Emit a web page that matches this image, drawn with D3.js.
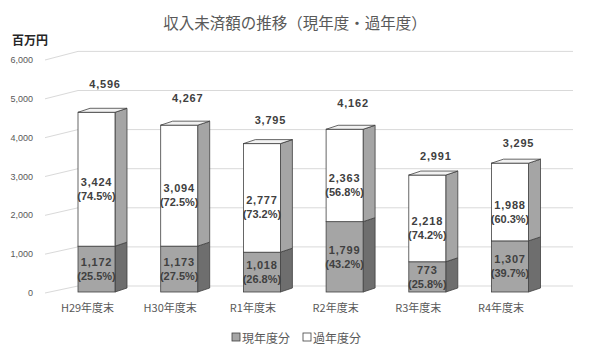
<!DOCTYPE html>
<html><head><meta charset="utf-8">
<script src="https://cdn.jsdelivr.net/npm/d3@7"></script>
<style>body{margin:0;background:#fff;}svg{display:block;}</style>
</head><body><svg id="c" width="600" height="357"></svg>
<script>
const categories = ["H29年度末","H30年度末","R1年度末","R2年度末","R3年度末","R4年度末"];
const currentVals = [1172,1173,1018,1799,773,1307];
const pastVals = [3424,3094,2777,2363,2218,1988];
const totals = [4596,4267,3795,4162,2991,3295];
const currentPct = ["25.5%","27.5%","26.8%","43.2%","25.8%","39.7%"];
const pastPct = ["74.5%","72.5%","73.2%","56.8%","74.2%","60.3%"];
const yTicks = [0,1000,2000,3000,4000,5000,6000];
const seriesNames = ["現年度分","過年度分"];

const svg = d3.select("#c");
const x = d3.scalePoint().domain(categories).range([96.5,510]);
const yBar = d3.scaleLinear().domain([0,6000]).range([292,57.4]);
const yBack = d3.scaleLinear().domain([0,6000]).range([286,51.4]);
const yTick = d3.scaleLinear().domain([0,6000]).range([293,60]);
const bw = 37, dx = 12, dy = -4;
const fmt = d3.format(",");

// title
svg.append("text").attr("x",295).attr("y",22).attr("text-anchor","middle")
  .attr("dominant-baseline","central").attr("fill","#595959")
  .style("font-family","'Noto Sans CJK JP'").style("font-size","15.5px")
  .text("収入未済額の推移（現年度・過年度）");
svg.append("text").attr("x",12).attr("y",39).attr("dominant-baseline","central")
  .attr("fill","#262626").style("font-family","'Noto Sans CJK JP'").style("font-size","12px")
  .style("font-weight","bold").text("百万円");

// gridlines
const g = svg.append("g");
yTicks.forEach(v=>{
  g.append("line").attr("x1",45).attr("y1",yTick(v)).attr("x2",78).attr("y2",yBack(v))
   .attr("stroke","#d9d9d9").attr("stroke-width",1);
  g.append("line").attr("x1",78).attr("y1",yBack(v)).attr("x2",573).attr("y2",yBack(v))
   .attr("stroke","#d9d9d9").attr("stroke-width",1);
  g.append("text").attr("x",33).attr("y",yTick(v)).attr("text-anchor","end")
   .attr("dominant-baseline","central").attr("fill","#595959")
   .style("font-family","'Liberation Sans'").style("font-size","9px").text(fmt(v));
});

function box(gg, xl, y0, y1, front, side, top){
  const xr = xl+bw;
  gg.append("path").attr("d",`M${xr},${y0}L${xr+dx},${y0+dy}L${xr+dx},${y1+dy}L${xr},${y1}Z`)
    .attr("fill",side).attr("stroke","#404040").attr("stroke-width",0.8);
  gg.append("rect").attr("x",xl).attr("y",y1).attr("width",bw).attr("height",y0-y1)
    .attr("fill",front).attr("stroke","#404040").attr("stroke-width",0.8);
  if(top){
    gg.append("path").attr("d",`M${xl},${y1}L${xl+dx},${y1+dy}L${xr+dx},${y1+dy}L${xr},${y1}Z`)
      .attr("fill",top).attr("stroke","#404040").attr("stroke-width",0.8);
  }
}
const lbl = (sel)=>sel.attr("text-anchor","middle").attr("dominant-baseline","central")
  .attr("fill","#404040").style("font-family","'Liberation Sans'").style("font-size","11px")
  .style("font-weight","bold").style("letter-spacing","0.8px");

const bars = svg.append("g");
categories.forEach((c,i)=>{
  const cx = x(c), xl = cx - bw/2;
  const y0 = yBar(0), y1 = yBar(currentVals[i]), y2 = yBar(totals[i]);
  box(bars, xl, y0, y1, "#a5a5a5", "#6e6e6e", null);
  box(bars, xl, y1, y2, "#ffffff", "#a5a5a5", "#f2f2f2");
  const mc = (y0+y1)/2;
  lbl(bars.append("text").attr("x",cx).attr("y",mc-7)).text(fmt(currentVals[i]));
  lbl(bars.append("text").attr("x",cx).attr("y",mc+7)).style("letter-spacing","0px").text("("+currentPct[i]+")");
  const mp = (y1+y2)/2 + 9.5;
  lbl(bars.append("text").attr("x",cx).attr("y",mp-7)).text(fmt(pastVals[i]));
  lbl(bars.append("text").attr("x",cx).attr("y",mp+7)).style("letter-spacing","0px").text("("+pastPct[i]+")");
  lbl(bars.append("text").attr("x",cx+8.5).attr("y",yBar(totals[i]*1.16))).text(fmt(totals[i]));
  svg.append("text").attr("x",cx-9).attr("y",307).attr("text-anchor","middle")
    .attr("dominant-baseline","central").attr("fill","#595959")
    .style("font-family","'Noto Sans CJK JP'").style("font-size","11px").text(c);
});

// legend
const leg = svg.append("g");
const legX = [232,303], legFill = ["#a5a5a5","#ffffff"];
seriesNames.forEach((n,i)=>{
  leg.append("rect").attr("x",legX[i]).attr("y",333).attr("width",8).attr("height",8)
    .attr("fill",legFill[i]).attr("stroke","#404040").attr("stroke-width",0.8);
  leg.append("text").attr("x",legX[i]+10).attr("y",337).attr("dominant-baseline","central")
    .attr("fill","#595959").style("font-family","'Noto Sans CJK JP'").style("font-size","12px").text(n);
});
</script></body></html>
